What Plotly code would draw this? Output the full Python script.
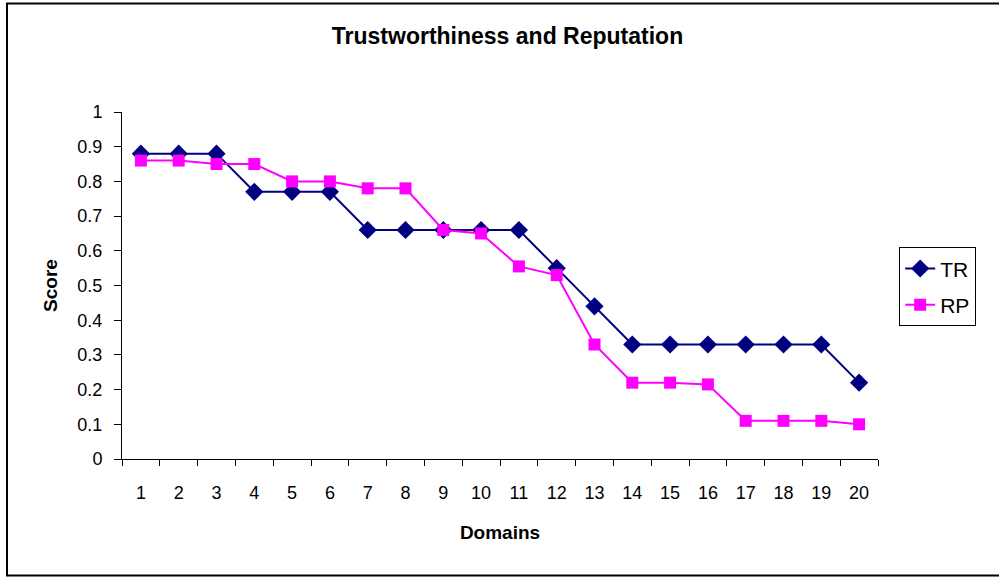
import plotly.graph_objects as go

domains = [str(i) for i in range(1, 21)]
tr_values = [0.88, 0.88, 0.88, 0.77, 0.77, 0.77, 0.66, 0.66, 0.66, 0.66,
             0.66, 0.55, 0.44, 0.33, 0.33, 0.33, 0.33, 0.33, 0.33, 0.22]
rp_values = [0.86, 0.86, 0.85, 0.85, 0.80, 0.80, 0.78, 0.78, 0.66, 0.65,
             0.555, 0.53, 0.33, 0.22, 0.22, 0.215, 0.11, 0.11, 0.11, 0.10]
y_ticks = [0, 0.1, 0.2, 0.3, 0.4, 0.5, 0.6, 0.7, 0.8, 0.9, 1]
y_tick_text = ["0", "0.1", "0.2", "0.3", "0.4", "0.5", "0.6", "0.7", "0.8", "0.9", "1"]

FONT = "Liberation Sans, Arial, sans-serif"

fig = go.Figure()
fig.add_trace(go.Scatter(
    x=domains, y=tr_values, name="TR", mode="lines+markers",
    line=dict(color="#000080", width=2),
    marker=dict(symbol="diamond", size=14, color="#000080"),
    legendgroup="a",
))
fig.add_trace(go.Scatter(
    x=domains, y=rp_values, name="RP", mode="lines+markers",
    line=dict(color="#FF00FF", width=2),
    marker=dict(symbol="square", size=12, color="#FF00FF"),
    legendgroup="b",
))

fig.update_layout(
    width=999, height=577,
    margin=dict(l=122, r=121, t=112, b=118, autoexpand=False),
    paper_bgcolor="white", plot_bgcolor="white",
    font=dict(family=FONT, size=18, color="black"),
    title=dict(text="<b>Trustworthiness and Reputation</b>", x=0.508, xanchor="center",
               y=0.937, yanchor="middle", font=dict(size=23, family=FONT)),
    showlegend=True,
    legend=dict(x=1.028, y=0.61, xanchor="left", yanchor="top",
                bordercolor="black", borderwidth=1, bgcolor="white",
                font=dict(size=21, family=FONT), tracegroupgap=6,
                traceorder="grouped"),
    xaxis=dict(type="category", range=[-0.5, 19.5], tickson="boundaries",
               ticks="outside", ticklen=6, tickcolor="black", showline=True,
               linecolor="black", linewidth=1, showgrid=False, zeroline=False,
               ticklabelstandoff=17, tickfont=dict(size=18),
               title=dict(text="<b>Domains</b>", font=dict(size=19), standoff=24)),
    yaxis=dict(range=[0, 1], tickvals=y_ticks, ticktext=y_tick_text,
               ticks="outside", ticklen=7, tickcolor="black", showline=True,
               linecolor="black", linewidth=1, showgrid=False, zeroline=False,
               ticklabelstandoff=8, tickfont=dict(size=18),
               title=dict(text="<b>Score</b>", font=dict(size=19), standoff=14)),
    shapes=[dict(type="rect", xref="paper", yref="paper",
                 x0=-0.1521, x1=1.25, y0=-0.3357, y1=1.3127,
                 line=dict(color="black", width=2), layer="below")],
)

fig.write_html("out.html", config={"displayModeBar": False},
               post_script="document.body.style.margin='0px';document.body.style.overflow='hidden';")
